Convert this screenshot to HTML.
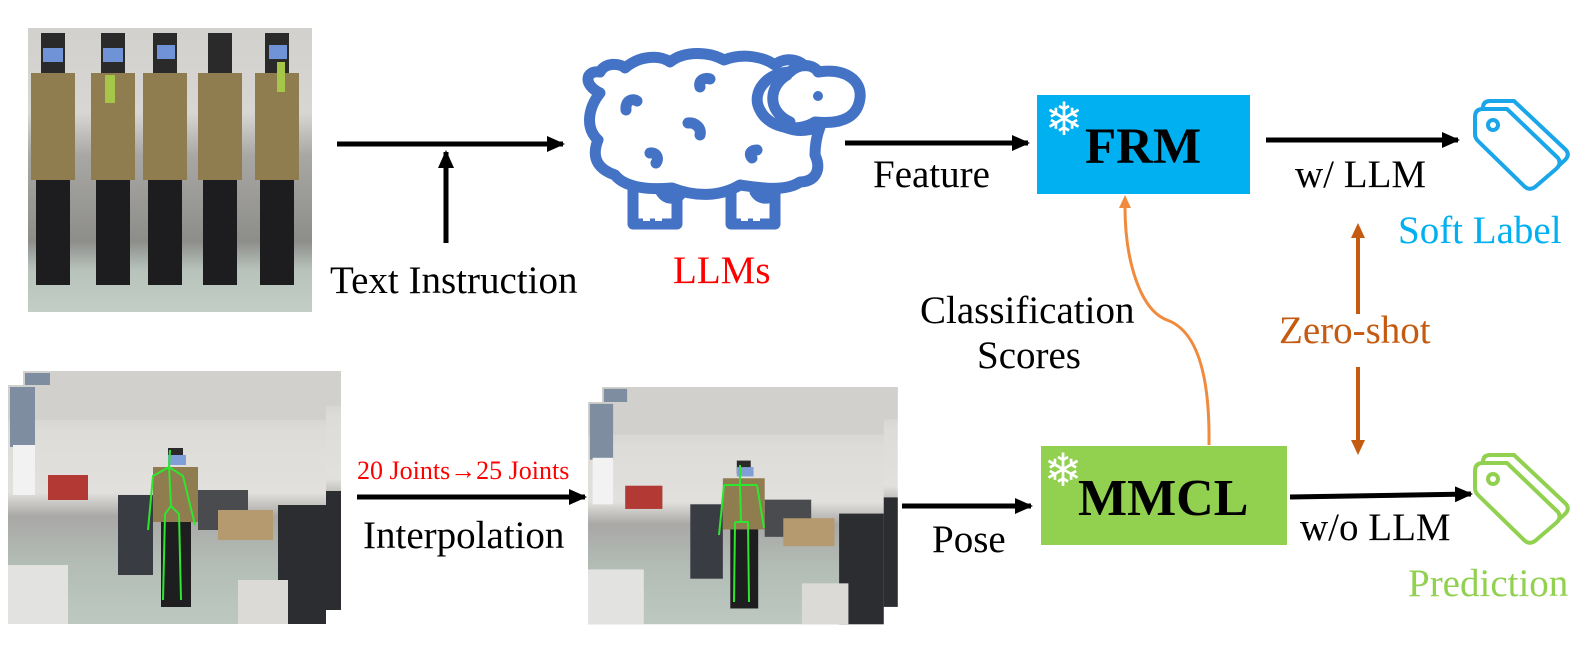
<!DOCTYPE html>
<html><head><meta charset="utf-8"><style>
html,body{margin:0;padding:0;background:#fff;}
svg{display:block}
svg text{font-family:"Liberation Serif","DejaVu Serif",serif;}
</style></head><body>
<svg width="1578" height="652" viewBox="0 0 1578 652" xmlns="http://www.w3.org/2000/svg" font-family="'Liberation Serif', 'DejaVu Serif', serif">
<defs>
<marker id="ah" markerWidth="18" markerHeight="16" refX="16" refY="8" orient="auto" markerUnits="userSpaceOnUse"><path d="M0,0 L18,8 L0,16 z" fill="#000"/></marker>
<linearGradient id="office" x1="0" y1="0" x2="0" y2="1">
<stop offset="0" stop-color="#c9c7c3"/><stop offset="0.2" stop-color="#dedcd8"/><stop offset="0.45" stop-color="#e2e0dc"/><stop offset="0.55" stop-color="#a9a8a6"/><stop offset="0.75" stop-color="#b3bdb6"/><stop offset="1" stop-color="#bcc8c0"/></linearGradient>
<linearGradient id="strip" x1="0" y1="0" x2="0" y2="1">
<stop offset="0" stop-color="#d3d1cd"/><stop offset="0.3" stop-color="#d8d6d2"/><stop offset="0.45" stop-color="#a8a7a4"/><stop offset="0.75" stop-color="#8d8d8a"/><stop offset="0.85" stop-color="#b7c2bb"/><stop offset="1" stop-color="#c3cec7"/></linearGradient>
<g id="scene">
<rect x="0" y="0" width="318" height="239" fill="url(#office)"/>
<rect x="0" y="0" width="318" height="35" fill="#d2d0cc"/>
<rect x="2" y="2" width="25" height="60" fill="#7e8ea0"/>
<rect x="5" y="60" width="22" height="50" fill="#f2f2f2"/>
<rect x="40" y="90" width="40" height="25" fill="#b33a34"/>
<rect x="110" y="110" width="35" height="80" fill="#3a3c44"/>
<rect x="190" y="105" width="50" height="40" fill="#4a4b4e"/>
<rect x="210" y="125" width="55" height="30" fill="#b69a6f"/>
<rect x="270" y="120" width="48" height="119" fill="#2b2d30"/>
<rect x="0" y="180" width="60" height="59" fill="#e2e2e0"/>
<rect x="230" y="195" width="50" height="44" fill="#dcdad6"/>
<rect x="160" y="63" width="15" height="14" fill="#2a2a2a"/>
<rect x="160" y="70" width="18" height="10" fill="#7f9fd6"/>
<rect x="145" y="82" width="45" height="55" fill="#8f7c4f"/>
<rect x="153" y="137" width="30" height="85" fill="#1e1d1f"/>
</g>
</defs>

<!-- top image strip -->
<rect x="28" y="28" width="284" height="284" fill="url(#strip)"/>
<g>
<g transform="translate(53,0)"><rect x="-22" y="73" width="44" height="107" fill="#8f7c4f"/><rect x="-17" y="180" width="34" height="105" fill="#1d1c1f"/><rect x="-12" y="33" width="24" height="40" fill="#2a2a2a"/><rect x="-10" y="48" width="20" height="14" fill="#6f93d6"/></g>
<g transform="translate(113,0)"><rect x="-22" y="73" width="44" height="107" fill="#8f7c4f"/><rect x="-17" y="180" width="34" height="105" fill="#1d1c1f"/><rect x="-12" y="33" width="24" height="40" fill="#2a2a2a"/><rect x="-10" y="48" width="20" height="14" fill="#6f93d6"/><rect x="-8" y="75" width="10" height="28" fill="#a6c64a"/></g>
<g transform="translate(165,0)"><rect x="-22" y="73" width="44" height="107" fill="#8f7c4f"/><rect x="-17" y="180" width="34" height="105" fill="#1d1c1f"/><rect x="-12" y="33" width="24" height="40" fill="#2a2a2a"/><rect x="-8" y="45" width="18" height="14" fill="#6f93d6"/></g>
<g transform="translate(220,0)"><rect x="-22" y="73" width="44" height="107" fill="#8f7c4f"/><rect x="-17" y="180" width="34" height="105" fill="#1d1c1f"/><rect x="-12" y="33" width="24" height="40" fill="#2a2a2a"/></g>
<g transform="translate(277,0)"><rect x="-22" y="73" width="44" height="107" fill="#8f7c4f"/><rect x="-17" y="180" width="34" height="105" fill="#1d1c1f"/><rect x="-12" y="33" width="24" height="40" fill="#2a2a2a"/><rect x="-8" y="45" width="18" height="14" fill="#6f93d6"/><rect x="0" y="62" width="8" height="30" fill="#a6c64a"/></g>
</g>

<!-- bottom left images -->
<use href="#scene" transform="translate(23,371)"/>
<use href="#scene" transform="translate(8,385)"/>
<g stroke="#2ee62e" stroke-width="2" fill="none">
<path d="M170,450 L169,467 L153,476 L148,530 M169,467 L183,476 L195,525 M169,467 L171,506 L165,514 L163,600 M171,506 L179,514 L181,600"/>
</g>
<!-- bottom middle images -->
<use href="#scene" transform="translate(602,387) scale(0.93,0.92)"/>
<use href="#scene" transform="translate(588,402) scale(0.93,0.93)"/>
<g stroke="#2ee62e" stroke-width="2" fill="none">
<path d="M740,465 L740,485 M724,485 L757,485 M724,485 L719,535 M757,485 L764,528 M740,485 L741,522 M735,522 L748,522 L749,602 M735,522 L734,602"/>
</g>

<!-- sheep -->
<g fill="#fff" stroke="#4472c4" stroke-width="11" stroke-linecap="round" stroke-linejoin="round">
<path d="M633,185 L633,224 L677,224 L677,185 M731,185 L731,224 L775,224 L775,185"/>
<path d="M600,93 C583,85 585,70 600,72 C605,62 620,63 625,68 C640,55 660,55 670,62 C685,50 710,52 724,60 C745,52 765,58 775,65 C785,55 808,60 808,75 C775,80 760,110 775,122 C795,135 810,130 820,127 C815,140 815,150 815,155 C822,170 815,182 800,182 C785,192 760,188 740,185 C720,197 695,197 672,188 C650,190 625,188 615,175 C595,168 592,155 598,140 C585,128 588,108 600,93 Z"/>
<path d="M790,72 C800,62 815,65 818,72 C845,68 862,80 860,98 C858,115 845,125 815,122 C800,132 770,130 760,110 C750,92 768,72 790,72 Z"/>
<path d="M787,75 C770,85 765,110 790,122" fill="none"/>
<path d="M626,110 C625,100 633,98 637,101 M700,87 C698,80 705,77 710,79 M688,123 C695,122 702,128 700,135 M650,153 C655,152 660,157 656,163 M752,158 C748,153 752,150 757,150" fill="none"/>
<path d="M660,190 C665,200 675,200 680,195 M755,192 C760,200 770,200 775,193" fill="none"/>
</g>
<circle cx="818" cy="96" r="5" fill="#4472c4"/>
<rect x="643" y="210" width="7" height="11" fill="#fff"/><rect x="655" y="210" width="7" height="11" fill="#fff"/>
<rect x="741" y="210" width="7" height="11" fill="#fff"/><rect x="753" y="210" width="7" height="11" fill="#fff"/>

<!-- boxes -->
<rect x="1037" y="95" width="213" height="99" fill="#00b0f0"/>
<rect x="1041" y="446" width="246" height="99" fill="#92d050"/>
<text x="1085" y="163" font-size="51" font-weight="bold" fill="#000">FRM</text>
<text x="1078" y="515" font-size="52" font-weight="bold" fill="#000">MMCL</text>
<text x="1064" y="135" font-size="46" fill="#fff" text-anchor="middle" font-family="DejaVu Sans">❄</text>
<text x="1063" y="486" font-size="46" fill="#fff" text-anchor="middle" font-family="DejaVu Sans">❄</text>

<!-- tags -->
<g fill="#fff" stroke-width="4" stroke-linejoin="round">
<g stroke="#1aa6e8">
<path d="M1483,108 Q1483,101 1490,101 L1514,101 L1566,150 Q1570,155 1565,160 L1545,178 Z"/>
<path d="M1475,117 Q1475,109 1483,109 L1507,109 L1558,158 Q1562,164 1556,169 L1535,187 Q1529,191 1524,186 L1478,141 Q1475,138 1475,134 Z"/>
<circle cx="1493" cy="125" r="5"/></g>
<g stroke="#92d050">
<path d="M1483,462 Q1483,455 1490,455 L1514,455 L1566,504 Q1570,509 1565,514 L1545,532 Z"/>
<path d="M1475,471 Q1475,463 1483,463 L1507,463 L1558,512 Q1562,518 1556,523 L1535,541 Q1529,545 1524,540 L1478,495 Q1475,492 1475,488 Z"/>
<circle cx="1493" cy="479" r="5"/></g>
</g>

<!-- arrows -->
<g stroke="#000" stroke-width="5" fill="none" marker-end="url(#ah)">
<line x1="337" y1="144" x2="563" y2="144"/>
<line x1="446" y1="243" x2="446" y2="152"/>
<line x1="845" y1="143" x2="1028" y2="143"/>
<line x1="1266" y1="140" x2="1458" y2="140"/>
<line x1="357" y1="497" x2="585" y2="497"/>
<line x1="902" y1="506" x2="1031" y2="506"/>
<line x1="1290" y1="497" x2="1471" y2="494"/>
</g>
<!-- orange curve -->
<path d="M1209,445 C1210,370 1195,330 1167,320 C1140,310 1125,260 1125,207" fill="none" stroke="#f08a3c" stroke-width="3"/>
<path d="M1125,195 L1119,208 L1131,208 Z" fill="#f08a3c"/>
<!-- zero-shot -->
<g stroke="#c55a11" stroke-width="4"><line x1="1358" y1="314" x2="1358" y2="234"/><line x1="1358" y1="367" x2="1358" y2="444"/></g>
<path d="M1358,223 L1351,238 L1365,238 Z M1358,455 L1351,440 L1365,440 Z" fill="#c55a11"/>

<!-- labels -->
<g font-size="39" fill="#000" font-family="'Liberation Serif', 'DejaVu Serif', serif">
<text x="330" y="293">Text Instruction</text>
<text x="873" y="187">Feature</text>
<text x="1295" y="187">w/ LLM</text>
<text x="920" y="323">Classification</text>
<text x="977" y="368">Scores</text>
<text x="363" y="548">Interpolation</text>
<text x="932" y="552">Pose</text>
<text x="1300" y="540">w/o LLM</text>
</g>
<g font-family="'Liberation Serif', 'DejaVu Serif', serif">
<text x="673" y="283" font-size="39" fill="#ff0000">LLMs</text>
<text x="357" y="479" font-size="26" fill="#ff0000">20 Joints→25 Joints</text>
<text x="1398" y="243" font-size="39" fill="#00b0f0">Soft Label</text>
<text x="1279" y="343" font-size="39" fill="#c55a11">Zero-shot</text>
<text x="1408" y="596" font-size="39" fill="#92d050">Prediction</text>
</g>
</svg>
</body></html>
